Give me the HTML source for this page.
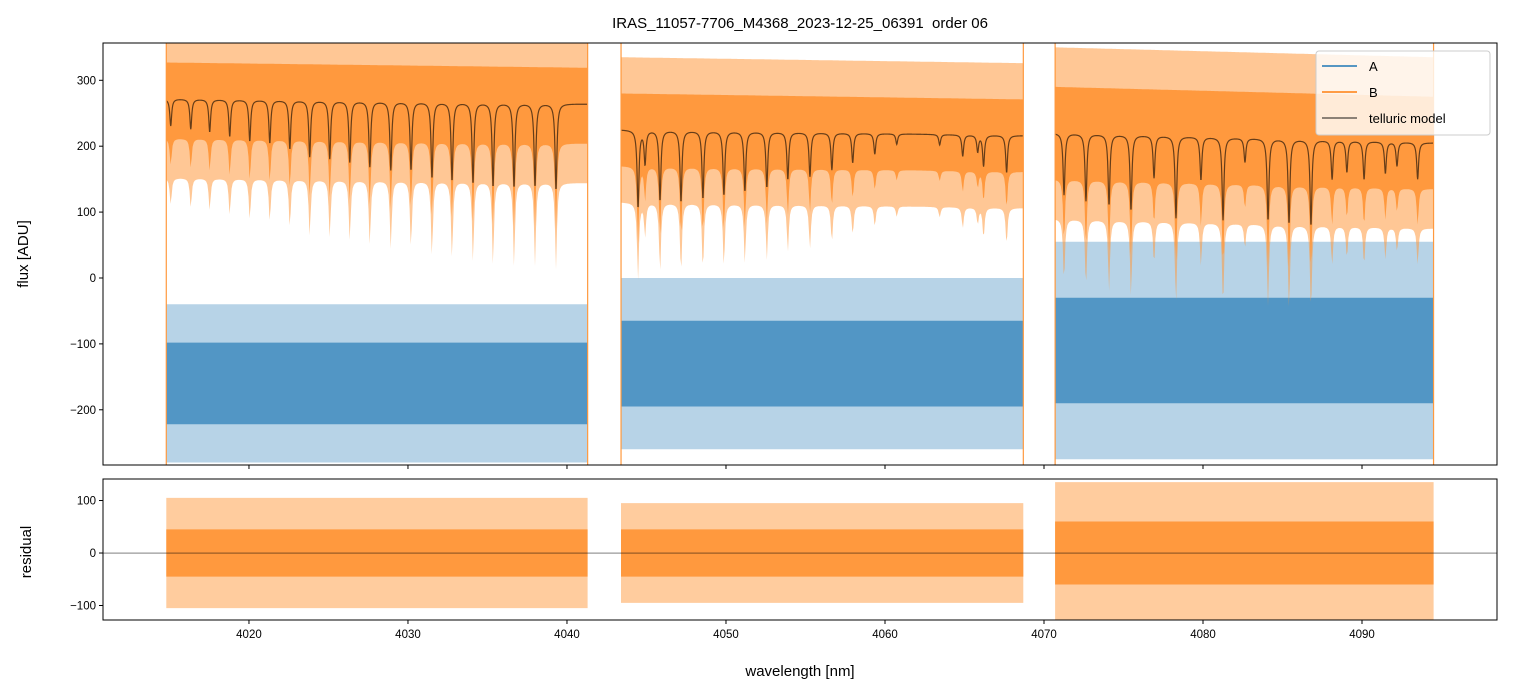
<!DOCTYPE html>
<html><head><meta charset="utf-8">
<style>
html,body{margin:0;padding:0;background:#fff;}
svg{display:block;font-family:"Liberation Sans","DejaVu Sans",sans-serif;}
</style></head>
<body>
<svg id="c" width="1513" height="696" viewBox="0 0 1513 696" xmlns="http://www.w3.org/2000/svg"></svg>
<script>
// ---- data ----
const segStart = [4014.8, 4043.4, 4070.7];
const segEnd   = [4041.3, 4068.7, 4094.5];
const modelBaseStart = [272, 225, 220];
const modelBaseEnd   = [264, 216, 205];
const dipWave1 = [4014.45,4015.08,4016.34,4017.53,4018.79,4020.05,4021.31,4022.57,4023.82,4025.08,4026.34,4027.6,4028.92,4030.19,4031.51,4032.77,4034.09,4035.35,4036.67,4037.99,4039.31];
const dipVal1  = [260,231,226,222,215,208,205,196,184,181,176,169,164,164,152,148,144,139,138,139,134];
const dipWave2 = [4044.47,4044.91,4045.85,4047.17,4048.55,4049.87,4051.19,4052.57,4053.89,4055.28,4056.66,4057.97,4059.36,4060.74,4063.44,4064.89,4065.83,4066.2,4067.65];
const dipVal2  = [108,174,118,116,121,126,132,138,150,154,164,175,188,203,202,185,192,170,160];
const dipWave3 = [4071.26,4072.64,4074.09,4075.47,4076.92,4078.3,4079.87,4081.26,4082.64,4084.09,4085.41,4086.79,4088.12,4089.05,4090.13,4091.47,4092.2,4093.5];
const dipVal3  = [126,117,111,103,152,91,149,88,176,88,83,80,150,161,150,159,170,150];
const aCenter = [-160, -130, -110];
const aInner  = [62, 65, 80];
const aOuter  = [120, 130, 165];
const bUpperInner = [55, 55, 70];
const bUpperOuter = [95, 110, 130];
const bLowerInner = [60, 55, 70];
const bLowerOuter = [120, 110, 130];
const resInner = [45, 45, 60];
const resOuter = [105, 95, 135];
const xTicks = [4020,4030,4040,4050,4060,4070,4080,4090];
const yTicksTop = [-200,-100,0,100,200,300];
const yTicksRes = [-100,0,100];

// ---- axes ----
const X0=103,X1=1497, W0=4010.82, W1=4098.49;
const T0=43,T1=465, TV0=356.6, TV1=-283.8;
const R0=479,R1=620, RV0=141, RV1=-127.6;
const xs = w => X0+(w-W0)/(W1-W0)*(X1-X0);
const yt = v => T0+(TV0-v)/(TV0-TV1)*(T1-T0);
const yr = v => R0+(RV0-v)/(RV0-RV1)*(R1-R0);
const svg=document.getElementById('c');
const NS='http://www.w3.org/2000/svg';
function mk(tag,attrs,parent){const e=document.createElementNS(NS,tag);for(const k in attrs)e.setAttribute(k,attrs[k]);(parent||svg).appendChild(e);return e;}
const dipW=[dipWave1,dipWave2,dipWave3], dipV=[dipVal1,dipVal2,dipVal3];
function base(s,w){return modelBaseStart[s]+(modelBaseEnd[s]-modelBaseStart[s])*(w-segStart[s])/(segEnd[s]-segStart[s]);}
function model(s,w){let b=base(s,w);let v=b;for(let i=0;i<dipW[s].length;i++){const d=(w-dipW[s][i])/0.07;v-=(b-dipV[s][i])/(1+d*d);}return v;}

const defs=mk('defs',{});
const cp1=mk('clipPath',{id:'ct'},defs);mk('rect',{x:X0,y:T0,width:X1-X0,height:T1-T0},cp1);
const cp2=mk('clipPath',{id:'cr'},defs);mk('rect',{x:X0,y:R0,width:X1-X0,height:R1-R0},cp2);
const gT=mk('g',{'clip-path':'url(#ct)'});


const gR=mk('g',{'clip-path':'url(#cr)'});



function band(g,upper,lower,s,fill,op,yf,name){
  const n=400;let pts=[];
  for(let i=0;i<=n;i++){const w=segStart[s]+(segEnd[s]-segStart[s])*i/n;pts.push(xs(w).toFixed(1)+','+yf(upper(w)).toFixed(1));}
  for(let i=n;i>=0;i--){const w=segStart[s]+(segEnd[s]-segStart[s])*i/n;pts.push(xs(w).toFixed(1)+','+yf(lower(w)).toFixed(1));}
  const p=mk('polygon',{points:pts.join(' '),fill:fill,'fill-opacity':op},g);
  
  
}
const BLUE='#4c92c3', ORG='#ff993e';
for(let s=0;s<3;s++){
  band(gT,w=>aCenter[s]+aOuter[s],w=>aCenter[s]-aOuter[s],s,BLUE,0.4,yt,'series-a-spikes');
  band(gT,w=>aCenter[s]+aInner[s],w=>aCenter[s]-aInner[s],s,BLUE,0.95,yt,'series-a-band');
  band(gT,w=>base(s,w)+bUpperOuter[s],w=>model(s,w)-bLowerOuter[s],s,ORG,0.55,yt,'series-b-spikes');
  band(gT,w=>base(s,w)+bUpperInner[s],w=>model(s,w)-bLowerInner[s],s,ORG,1,yt,'series-b-band');
  let d='';const n=Math.round((segEnd[s]-segStart[s])/0.02);
  for(let i=0;i<=n;i++){const w=segStart[s]+(segEnd[s]-segStart[s])*i/n;d+=(i?'L':'M')+xs(w).toFixed(2)+','+yt(model(s,w)).toFixed(2);}
  const ml=mk('path',{d:d,fill:'none',stroke:'#000','stroke-opacity':0.6,'stroke-width':1.2},gT);
  
  
  [segStart[s],segEnd[s]].forEach(w=>{const l=mk('line',{x1:xs(w),x2:xs(w),y1:T0,y2:T1,stroke:ORG,'stroke-width':1.2},gT);
    
    });
  band(gR,w=>resOuter[s],w=>-resOuter[s],s,ORG,0.5,yr,'residual-spikes');
  band(gR,w=>resInner[s],w=>-resInner[s],s,ORG,1,yr,'residual-band');
}
const zl=mk('line',{x1:X0,x2:X1,y1:yr(0),y2:yr(0),stroke:'#000','stroke-width':0.6,'stroke-opacity':0.8});



[[T0,T1,'flux-axes-frame'],[R0,R1,'residual-axes-frame']].forEach(a=>{const r=mk('rect',{x:X0,y:a[0],width:X1-X0,height:a[1]-a[0],fill:'none',stroke:'#000','stroke-width':1});
  
  });

xTicks.forEach(t=>{const x=xs(t);
  mk('line',{x1:x,x2:x,y1:T1,y2:T1+4,stroke:'#000'});
  mk('line',{x1:x,x2:x,y1:R1,y2:R1+4,stroke:'#000'});
  const tx=mk('text',{x:x,y:R1+18,'font-size':11.5,'text-anchor':'middle'});tx.textContent=t;
  
  });
yTicksTop.forEach(t=>{const y=yt(t);
  mk('line',{x1:X0-4,x2:X0,y1:y,y2:y,stroke:'#000'});
  const tx=mk('text',{x:X0-7,y:y+4,'font-size':11.5,'text-anchor':'end'});tx.textContent=t<0?'\u2212'+(-t):t;
  
  });
yTicksRes.forEach(t=>{const y=yr(t);
  mk('line',{x1:X0-4,x2:X0,y1:y,y2:y,stroke:'#000'});
  const tx=mk('text',{x:X0-7,y:y+4,'font-size':11.5,'text-anchor':'end'});tx.textContent=t<0?'\u2212'+(-t):t;
  
  });

const lg=mk('g',{});


mk('rect',{x:1316,y:51,width:174,height:84,rx:3,fill:'#fff','fill-opacity':0.8,stroke:'#ccc'},lg);
[['A','#1f77b4',1,66],['B','#ff7f0e',1,92],['telluric model','#000',0.6,118]].forEach(e=>{
  const l=mk('line',{x1:1322,x2:1357,y1:e[3],y2:e[3],stroke:e[1],'stroke-opacity':e[2],'stroke-width':1.5},lg);
  
  
  const t=mk('text',{x:1369,y:e[3]+5,'font-size':13},lg);t.textContent=e[0];
  
  });

function label(txt,x,y,size,rot,name){const t=mk('text',{x:x,y:y,'font-size':size,'text-anchor':'middle'});t.setAttributeNS('http://www.w3.org/XML/1998/namespace','xml:space','preserve');t.setAttribute('style','white-space:pre');if(rot)t.setAttribute('transform','rotate(-90 '+x+' '+y+')');t.textContent=txt;
  
  }
label('IRAS_11057-7706_M4368_2023-12-25_06391  order 06',800,28,15,false,'chart-title');
label('flux [ADU]',28,254,15,true,'y-axis-title');
label('residual',31,552,15,true,'residual-axis-title');
label('wavelength [nm]',800,676,15,false,'x-axis-title');
</script>
</body></html>
